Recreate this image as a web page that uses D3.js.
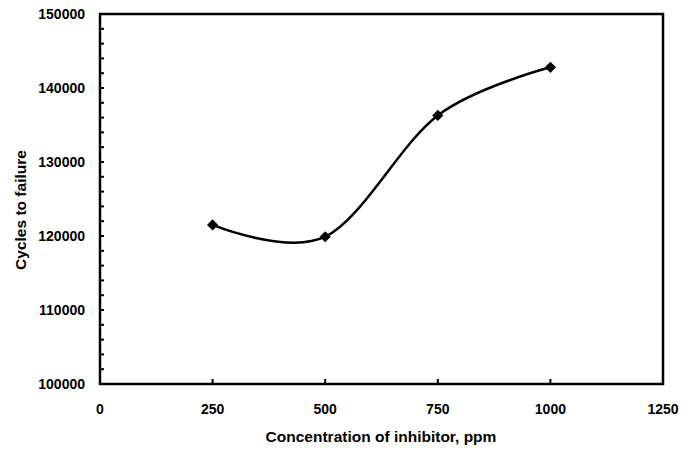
<!DOCTYPE html>
<html>
<head>
<meta charset="utf-8">
<script src="https://cdn.jsdelivr.net/npm/d3@7"></script>
<style>
  body { margin: 0; background: #fff; }
  text { font-family: "Liberation Sans", Arial, sans-serif; font-weight: bold; fill: #000; }
</style>
</head>
<body>
<div class="chart"></div>
<script>
const concentration = [250, 500, 750, 1000];
const cycles = [121500, 119900, 136300, 142800];
const xTicks = [0, 250, 500, 750, 1000, 1250];
const yTicks = [100000, 110000, 120000, 130000, 140000, 150000];

let margin = { top: 14, right: 31, bottom: 68, left: 100 },
  width = 694 - margin.left - margin.right,
  height = 452 - margin.top - margin.bottom;

let svg = d3
  .select(".chart")
  .append("svg")
  .attr("width", 694)
  .attr("height", 452)
  .append("g")
  .attr("transform", "translate(" + margin.left + "," + margin.top + ")");

let x = d3.scaleLinear().domain([0, 1250]).range([0, width]);
let y = d3.scaleLinear().domain([100000, 150000]).range([height, 0]);

// minor y ticks every 2000, inside
svg.append("g")
  .selectAll("line")
  .data(d3.range(100000, 150001, 2000))
  .join("line")
  .attr("x1", 0)
  .attr("x2", 4)
  .attr("y1", (d) => y(d))
  .attr("y2", (d) => y(d))
  .attr("stroke", "black")
  .attr("stroke-width", 2);

// x ticks inside
svg.append("g")
  .selectAll("line")
  .data(xTicks)
  .join("line")
  .attr("x1", (d) => x(d))
  .attr("x2", (d) => x(d))
  .attr("y1", height)
  .attr("y2", height - 5)
  .attr("stroke", "black")
  .attr("stroke-width", 2);

// frame
svg.append("rect")
  .attr("width", width)
  .attr("height", height)
  .attr("fill", "none")
  .attr("stroke", "black")
  .attr("stroke-width", 2.5);

// tick labels
svg.append("g")
  .selectAll("text")
  .data(yTicks)
  .join("text")
  .attr("x", -15)
  .attr("y", (d) => y(d))
  .attr("dy", "0.35em")
  .attr("text-anchor", "end")
  .style("font-size", "14px")
  .text((d) => d);

svg.append("g")
  .selectAll("text")
  .data(xTicks)
  .join("text")
  .attr("x", (d) => x(d))
  .attr("y", height + 30)
  .attr("text-anchor", "middle")
  .style("font-size", "14px")
  .text((d) => d);

// axis titles
svg.append("text")
  .attr("x", 281)
  .attr("y", height + 58)
  .attr("text-anchor", "middle")
  .style("font-size", "15.5px")
  .text("Concentration of inhibitor, ppm");

svg.append("text")
  .attr("transform", "translate(" + (-74) + "," + (210 - margin.top) + ") rotate(-90)")
  .attr("text-anchor", "middle")
  .style("font-size", "15.5px")
  .text("Cycles to failure");

// smoothed line
let pts = concentration.map((c, i) => [c, cycles[i]]);
let line = d3.line()
  .x((d) => x(d[0]))
  .y((d) => y(d[1]))
  .curve(d3.curveCardinal.tension(0));

svg.append("path")
  .datum(pts)
  .attr("d", line)
  .attr("fill", "none")
  .attr("stroke", "black")
  .attr("stroke-width", 2.5);

svg.append("g")
  .selectAll("path")
  .data(pts)
  .join("path")
  .attr("d", d3.symbol().type(d3.symbolDiamond2).size(80))
  .attr("transform", (d) => "translate(" + x(d[0]) + "," + y(d[1]) + ")")
  .attr("fill", "black");
</script>
</body>
</html>
